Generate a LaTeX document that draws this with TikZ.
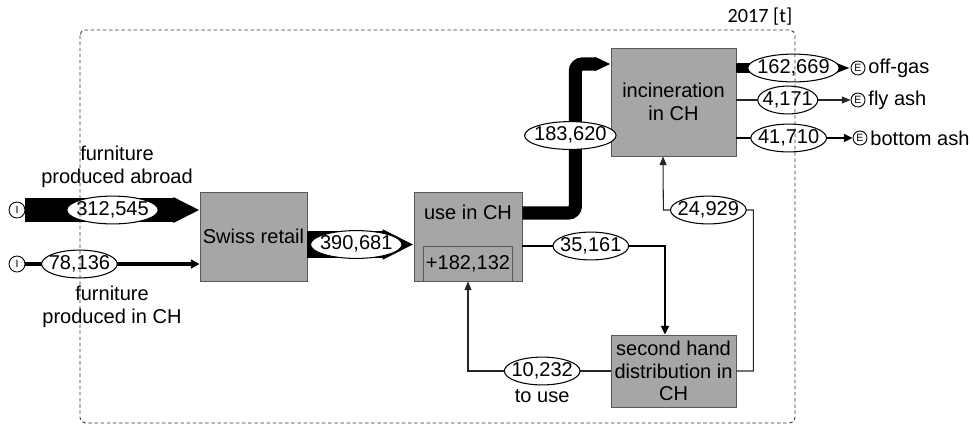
\documentclass[tikz,border=0pt]{standalone}
\usepackage{fontspec}
\setmainfont{Liberation Sans}
\newfontfamily\yearfont{Carlito}
\usetikzlibrary{arrows.meta,positioning,shapes.geometric,calc}

\begin{document}
\begin{tikzpicture}[
  x=0.02cm, y=-0.02cm,
  font=\fontsize{11.4}{12.8}\selectfont,
  process/.style={draw=black!65, fill=black!35, align=center, inner sep=1pt},
  stockbox/.style={draw=black!65, fill=black!35, minimum width=17.8mm, minimum height=7mm, inner sep=0pt},
  qty/.style={ellipse, draw=black, fill=white, line width=0.6pt, inner xsep=-2.2pt, inner ysep=0.6pt,
    text height=8pt, text depth=2pt},
  endpoint/.style={circle, draw=black, fill=white, line width=0.5pt, inner sep=0pt,
    font=\fontsize{6}{6}\selectfont},
  band/.style={draw=black, line cap=butt},
  thinflow/.style={draw=black!85, line width=0.6pt, -{Triangle[length=5pt,width=4pt]}},
  note/.style={align=center}
]
\useasboundingbox (0,0) rectangle (973,427);

% processes
\node[process, minimum width=21.4mm, minimum height=17.8mm] (retail) at (253.5,236.5) {Swiss retail};
\node[process, minimum width=21.6mm, minimum height=17.8mm] (use) at (468,236.5) {};
\node[below=2.6mm of use.north, inner sep=0pt] (usename) {use in CH};
\node[stockbox, anchor=south] (stock) at (use.south) {+182,132};
\node[process, minimum width=25mm, minimum height=21.6mm] (incin) at (673.5,102) {incineration\\in CH};
\node[process, minimum width=25mm, minimum height=14.4mm] (second) at (673.5,371) {second hand\\distribution in\\CH};

% imports and exports
\node[endpoint, minimum size=3.2mm] (srcA) at (17,210) {I};
\node[endpoint, minimum size=3.2mm] (srcB) at (17,264) {I};
\node[endpoint, minimum size=2.8mm] (sinkA) at (858,68) {E};
\node[endpoint, minimum size=2.8mm] (sinkB) at (858,100) {E};
\node[endpoint, minimum size=2.8mm] (sinkC) at (860,138) {E};
\node[right=1.5pt of sinkA, inner sep=0pt] (offgas) {off-gas};
\node[right=1.5pt of sinkB, inner sep=0pt] (flyash) {fly ash};
\node[right=1.5pt of sinkC, inner sep=0pt] (bottomash) {bottom ash};
\node[note] (abroadtext) at (117,167) {furniture\\produced abroad};
\node[note] (chtext) at (112,307) {furniture\\produced in CH};

% flows
\draw[band, line width=13.6pt, -{Triangle[length=15pt,width=13.6pt]}]
  (srcA.east) -- (srcA -| retail.west) node[qty, pos=0.5] (qabroad) {312,545};
\draw[band, line width=2.5pt, -{Triangle[length=5pt,width=5pt]}]
  (srcB.east) -- (srcB -| retail.west) node[qty, pos=0.31] (qch) {78,136};
\draw[band, line width=15.9pt, -{Triangle[length=17.6pt,width=15.9pt]}]
  ($(retail.east)+(0,8)$) -- ($(use.west)+(0,8)$) node[qty, pos=0.46] (qretail) {390,681};
\draw[band, line width=7.5pt, rounded corners=4pt, -{Triangle[length=9pt,width=7.5pt]}]
  ($(use.east)+(0,-23.5)$) -- ++(53,0) -- ++(0,-149) node[qty, pos=0.52, xshift=-0.1cm] (qincin) {183,620}
  -- ($(incin.west)+(0,-38)$);
\draw[band, line width=1.2pt, -{Triangle[length=5pt,width=4.5pt]}]
  ($(use.east)+(0,9.5)$) -| ($(second.north)+(-8.5,0)$) node[qty, pos=0.24] (qsecond) {35,161};
\draw[thinflow] (second.west) -| (use.south) node[qty, pos=0.24] (qreuse) {10,232};
\node[below=1pt of qreuse, inner sep=1pt] (touse) {to use};
\draw[thinflow] (second.east) -- ++(17,0) -- ++(0,-161) -- ++(-90,0)
  node[qty, pos=0.5] (qburn) {24,929} -- ($(incin.south)+(-10.5,0)$);

\draw[band, line width=5.7pt, -{Triangle[length=9.6pt,width=6pt]}]
  ($(incin.east)+(0,-34)$) -- (sinkA.west) node[qty, pos=0.5] (qgas) {162,669};
\draw[thinflow] (incin.east |- sinkB) -- (sinkB.west) node[qty, pos=0.45] (qfly) {4,171};
\draw[band, line width=1.6pt, -{Triangle[length=5pt,width=4.5pt]}]
  (incin.east |- sinkC) -- (sinkC.west) node[qty, pos=0.45] (qbottom) {41,710};

% system boundary
\draw[black!80, line width=0.5pt, dash pattern=on 2pt off 1.5pt, rounded corners=3pt]
  (80,30) rectangle (795,423);
\node[font=\yearfont\fontsize{11.5}{13}\selectfont] (year) at (760,17) {2017 [t]};
\end{tikzpicture}
\end{document}
